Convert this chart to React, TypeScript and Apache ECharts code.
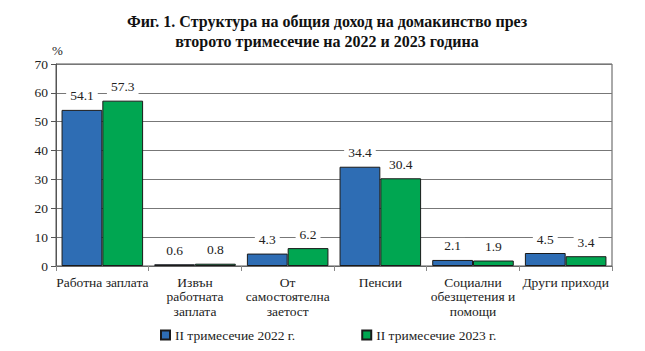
import React, { useEffect, useRef } from "react";
import * as echarts from "echarts";

const categories = [
  "Работна заплата",
  "Извън\nработната\nзаплата",
  "От\nсамостоятелна\nзаетост",
  "Пенсии",
  "Социални\nобезщетения и\nпомощи",
  "Други приходи",
];
const series2022 = [54.1, 0.6, 4.3, 34.4, 2.1, 4.5];
const series2023 = [57.3, 0.8, 6.2, 30.4, 1.9, 3.4];
const seriesNames = ["II тримесечие 2022 г.", "II тримесечие 2023 г."];
const titleText = "Фиг. 1. Структура на общия доход на домакинство през\nвторото тримесечие на 2022 и 2023 година";

const FONT = "Liberation Serif";

export default function App() {
  const ref = useRef<HTMLDivElement>(null);
  useEffect(() => {
    if (!ref.current) return;
    const chart = echarts.init(ref.current, undefined, { renderer: "svg" });
    const labelCfg = {
      show: true,
      position: "top" as const,
      distance: 6,
      color: "#222",
      fontFamily: FONT,
      fontSize: 13.5,
      backgroundColor: "#fff",
      padding: [1, 4],
      formatter: (p: any) => p.value.toFixed(1),
    };
    chart.setOption({
      animation: false,
      title: {
        text: titleText,
        left: 322,
        textAlign: "center",
        top: 6,
        textStyle: {
          fontFamily: FONT,
          fontSize: 16,
          fontWeight: "bold",
          color: "#111",
          lineHeight: 20,
        },
      },
      legend: {
        bottom: 4,
        left: 155,
        itemWidth: 9,
        itemHeight: 9,
        itemGap: 66,
        icon: "rect",
        textStyle: { fontFamily: FONT, fontSize: 13.5, color: "#222" },
        data: seriesNames,
      },
      grid: { left: 56, right: 33, top: 64, bottom: 85, show: true, borderColor: "#555", borderWidth: 1 },
      xAxis: {
        type: "category",
        data: categories,
        axisLine: { lineStyle: { color: "#666" } },
        axisTick: { show: true, length: 5, lineStyle: { color: "#888" } },
        axisLabel: {
          interval: 0,
          fontFamily: FONT,
          fontSize: 13.5,
          color: "#222",
          lineHeight: 14.5,
          margin: 9,
        },
      },
      yAxis: {
        type: "value",
        min: 0,
        max: 70,
        interval: 10,
        name: "%",
        nameGap: 4,
        nameTextStyle: { fontFamily: FONT, fontSize: 13, color: "#222", align: "left", padding: [0, 0, 0, -4] },
        axisLine: { show: true, lineStyle: { color: "#555" } },
        axisTick: { show: true, length: 5, lineStyle: { color: "#555" } },
        axisLabel: { fontFamily: FONT, fontSize: 13.5, color: "#222", margin: 8 },
        splitLine: { lineStyle: { color: "#777" } },
      },
      series: [
        {
          name: seriesNames[0],
          type: "bar",
          data: series2022,
          barGap: "0%",
          barCategoryGap: "12%",
          itemStyle: { color: "#2E6DB4", borderColor: "#1a1a1a", borderWidth: 1 },
          label: labelCfg,
        },
        {
          name: seriesNames[1],
          type: "bar",
          data: series2023,
          barGap: "0%",
          barCategoryGap: "12%",
          itemStyle: { color: "#00A651", borderColor: "#1a1a1a", borderWidth: 1 },
          label: labelCfg,
        },
      ],
    });
    return () => chart.dispose();
  }, []);
  return <div ref={ref} style={{ width: 645, height: 351, marginLeft: -8, marginTop: -8 }} />;
}
